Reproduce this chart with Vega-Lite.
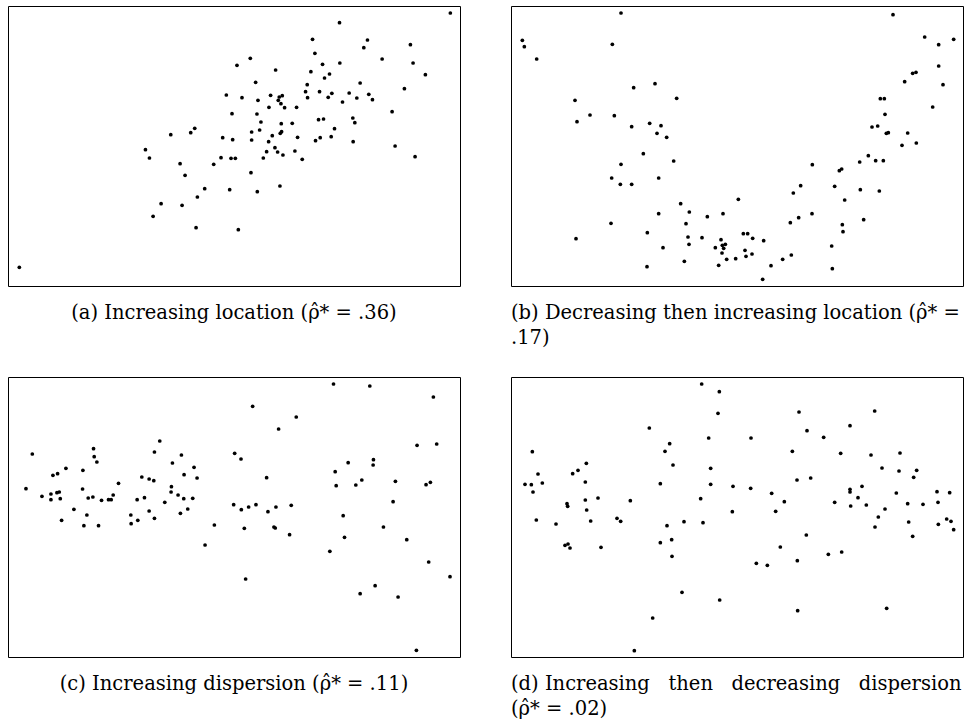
{
  "$schema": "https://vega.github.io/schema/vega-lite/v6.json",
  "padding": {"left": 7, "top": 5, "right": 5, "bottom": 5},
  "background": "white",
  "config": {
    "view": {"stroke": "black", "strokeWidth": 1},
    "title": {"font": "DejaVu Serif", "fontSize": 19.5, "fontWeight": "normal", "color": "black", "lineHeight": 25, "frame": "group"}
  },
  "datasets": {
    "a": [
      {"x":688,"y":662},{"x":656,"y":573},{"x":673,"y":517},{"x":561,"y":473},{"x":549,"y":460},{"x":489,"y":454},{"x":645,"y":445},{"x":675,"y":439},{"x":413,"y":409},{"x":425,"y":384},{"x":640,"y":385},{"x":670,"y":383},{"x":683,"y":383},{"x":517,"y":367},{"x":618,"y":365},{"x":532,"y":332},{"x":591,"y":292},{"x":666,"y":289},{"x":569,"y":267},{"x":460,"y":247},{"x":523,"y":242},{"x":436,"y":209},{"x":565,"y":175},{"x":692,"y":169},{"x":34,"y":56},
      {"x":1329,"y":819},{"x":996,"y":790},{"x":915,"y":740},{"x":1080,"y":738},{"x":1069,"y":715},{"x":1209,"y":724},{"x":922,"y":698},{"x":728,"y":683},{"x":1124,"y":681},{"x":945,"y":665},{"x":997,"y":669},{"x":1217,"y":669},{"x":804,"y":648},{"x":910,"y":643},{"x":966,"y":636},{"x":951,"y":624},{"x":1254,"y":634},{"x":744,"y":611},{"x":899,"y":604},{"x":1058,"y":609},{"x":1191,"y":592},{"x":894,"y":583},{"x":936,"y":583},{"x":973,"y":578},{"x":1025,"y":579},{"x":1084,"y":575},{"x":703,"y":565},{"x":789,"y":572},{"x":815,"y":567},{"x":824,"y":571},{"x":812,"y":557},{"x":900,"y":565},{"x":962,"y":566},{"x":1048,"y":564},{"x":1095,"y":559},{"x":751,"y":557},{"x":820,"y":547},{"x":1005,"y":552},{"x":784,"y":536},{"x":831,"y":535},{"x":867,"y":536},{"x":1154,"y":523},{"x":748,"y":516},{"x":760,"y":492},{"x":821,"y":487},{"x":854,"y":488},{"x":933,"y":499},{"x":948,"y":501},{"x":1036,"y":504},{"x":1042,"y":490},{"x":981,"y":472},{"x":756,"y":468},{"x":732,"y":462},{"x":818,"y":458},{"x":822,"y":463},{"x":794,"y":451},{"x":870,"y":446},{"x":938,"y":445},{"x":971,"y":448},{"x":732,"y":438},{"x":783,"y":433},{"x":924,"y":436},{"x":1037,"y":433},{"x":802,"y":415},{"x":777,"y":403},{"x":810,"y":402},{"x":862,"y":405},{"x":826,"y":393},{"x":1163,"y":420},{"x":767,"y":384},{"x":884,"y":380},{"x":1223,"y":388},{"x":730,"y":340},{"x":817,"y":300},{"x":749,"y":283}
    ],
    "b": [
      {"x":330,"y":819},{"x":34,"y":737},{"x":40,"y":718},{"x":304,"y":725},{"x":77,"y":681},{"x":432,"y":607},{"x":368,"y":595},{"x":497,"y":563},{"x":192,"y":557},{"x":237,"y":513},{"x":310,"y":511},{"x":198,"y":493},{"x":362,"y":478},{"x":416,"y":488},{"x":450,"y":481},{"x":438,"y":458},{"x":467,"y":446},{"x":397,"y":397},{"x":488,"y":375},{"x":330,"y":365},{"x":302,"y":324},{"x":443,"y":324},{"x":328,"y":305},{"x":362,"y":305},{"x":682,"y":260},{"x":509,"y":247},{"x":535,"y":222},{"x":443,"y":217},{"x":589,"y":208},{"x":636,"y":217},{"x":300,"y":188},{"x":525,"y":187},{"x":409,"y":160},{"x":195,"y":142},{"x":531,"y":147},{"x":573,"y":145},{"x":630,"y":139},{"x":534,"y":125},{"x":634,"y":122},{"x":643,"y":125},{"x":456,"y":115},{"x":613,"y":115},{"x":638,"y":113},{"x":633,"y":99},{"x":647,"y":80},{"x":674,"y":82},{"x":520,"y":74},{"x":623,"y":62},{"x":408,"y":58},
      {"x":1146,"y":814},{"x":1241,"y":747},{"x":1283,"y":724},{"x":1328,"y":740},{"x":1283,"y":660},{"x":1205,"y":638},{"x":1215,"y":641},{"x":1181,"y":613},{"x":1296,"y":604},{"x":1108,"y":562},{"x":1120,"y":562},{"x":1265,"y":537},{"x":1122,"y":515},{"x":1083,"y":477},{"x":1100,"y":480},{"x":1126,"y":458},{"x":1132,"y":460},{"x":1190,"y":459},{"x":1173,"y":422},{"x":1216,"y":429},{"x":1072,"y":391},{"x":1046,"y":372},{"x":1094,"y":376},{"x":1117,"y":376},{"x":904,"y":364},{"x":985,"y":346},{"x":992,"y":351},{"x":869,"y":301},{"x":971,"y":299},{"x":847,"y":279},{"x":1048,"y":289},{"x":1105,"y":285},{"x":1001,"y":258},{"x":903,"y":217},{"x":863,"y":205},{"x":838,"y":190},{"x":1058,"y":199},{"x":994,"y":184},{"x":697,"y":157},{"x":710,"y":157},{"x":725,"y":143},{"x":758,"y":136},{"x":996,"y":163},{"x":702,"y":107},{"x":705,"y":89},{"x":723,"y":96},{"x":962,"y":120},{"x":841,"y":93},{"x":815,"y":80},{"x":780,"y":61},{"x":755,"y":20},{"x":964,"y":52}
    ],
    "c": [
      {"x":456,"y":648},{"x":257,"y":625},{"x":440,"y":615},{"x":73,"y":609},{"x":521,"y":606},{"x":259,"y":601},{"x":267,"y":585},{"x":494,"y":582},{"x":559,"y":569},{"x":174,"y":566},{"x":225,"y":560},{"x":135,"y":545},{"x":149,"y":550},{"x":529,"y":547},{"x":402,"y":540},{"x":424,"y":534},{"x":438,"y":529},{"x":568,"y":537},{"x":332,"y":521},{"x":54,"y":505},{"x":224,"y":504},{"x":491,"y":511},{"x":102,"y":482},{"x":129,"y":489},{"x":147,"y":493},{"x":154,"y":495},{"x":490,"y":495},{"x":316,"y":486},{"x":511,"y":486},{"x":129,"y":472},{"x":157,"y":475},{"x":241,"y":477},{"x":255,"y":480},{"x":281,"y":470},{"x":302,"y":472},{"x":310,"y":472},{"x":388,"y":472},{"x":410,"y":478},{"x":528,"y":475},{"x":555,"y":476},{"x":471,"y":464},{"x":198,"y":443},{"x":540,"y":444},{"x":424,"y":438},{"x":237,"y":426},{"x":369,"y":426},{"x":518,"y":431},{"x":161,"y":410},{"x":390,"y":410},{"x":440,"y":416},{"x":370,"y":400},{"x":228,"y":394},{"x":272,"y":394},{"x":620,"y":396},{"x":592,"y":336},
      {"x":978,"y":819},{"x":1087,"y":813},{"x":1278,"y":780},{"x":735,"y":752},{"x":866,"y":720},{"x":813,"y":684},{"x":1229,"y":635},{"x":1288,"y":639},{"x":681,"y":611},{"x":700,"y":594},{"x":1022,"y":583},{"x":1098,"y":592},{"x":1097,"y":576},{"x":983,"y":556},{"x":777,"y":538},{"x":1063,"y":531},{"x":1164,"y":527},{"x":1045,"y":516},{"x":986,"y":514},{"x":1256,"y":517},{"x":1269,"y":524},{"x":1157,"y":466},{"x":678,"y":457},{"x":701,"y":442},{"x":723,"y":450},{"x":745,"y":457},{"x":781,"y":436},{"x":805,"y":450},{"x":851,"y":455},{"x":1007,"y":424},{"x":710,"y":386},{"x":799,"y":390},{"x":803,"y":387},{"x":1128,"y":390},{"x":846,"y":367},{"x":1011,"y":359},{"x":1198,"y":352},{"x":967,"y":317},{"x":1264,"y":285},{"x":1328,"y":241},{"x":714,"y":234},{"x":1103,"y":214},{"x":1058,"y":190},{"x":1172,"y":180},{"x":1227,"y":20}
    ],
    "d": [
      {"x":572,"y":819},{"x":625,"y":796},{"x":621,"y":731},{"x":415,"y":687},{"x":593,"y":657},{"x":476,"y":640},{"x":462,"y":617},{"x":64,"y":616},{"x":226,"y":581},{"x":486,"y":576},{"x":201,"y":560},{"x":185,"y":550},{"x":599,"y":566},{"x":81,"y":549},{"x":42,"y":518},{"x":61,"y":517},{"x":94,"y":522},{"x":223,"y":525},{"x":448,"y":520},{"x":599,"y":518},{"x":666,"y":512},{"x":66,"y":495},{"x":261,"y":477},{"x":223,"y":471},{"x":358,"y":469},{"x":569,"y":475},{"x":168,"y":460},{"x":170,"y":452},{"x":227,"y":441},{"x":664,"y":436},{"x":76,"y":411},{"x":318,"y":416},{"x":329,"y":407},{"x":239,"y":408},{"x":135,"y":399},{"x":519,"y":406},{"x":576,"y":403},{"x":468,"y":394},{"x":448,"y":343},{"x":482,"y":352},{"x":162,"y":335},{"x":171,"y":339},{"x":177,"y":327},{"x":270,"y":329},{"x":483,"y":302},{"x":513,"y":194},{"x":626,"y":171},{"x":425,"y":117},{"x":370,"y":19},
      {"x":864,"y":735},{"x":1091,"y":738},{"x":1017,"y":694},{"x":888,"y":679},{"x":720,"y":657},{"x":938,"y":659},{"x":844,"y":617},{"x":989,"y":611},{"x":1080,"y":606},{"x":1167,"y":612},{"x":1113,"y":567},{"x":1164,"y":558},{"x":1217,"y":560},{"x":1208,"y":539},{"x":858,"y":531},{"x":899,"y":537},{"x":719,"y":506},{"x":1017,"y":503},{"x":1017,"y":495},{"x":1053,"y":512},{"x":782,"y":491},{"x":1156,"y":492},{"x":1278,"y":496},{"x":1316,"y":493},{"x":1041,"y":478},{"x":820,"y":466},{"x":971,"y":464},{"x":1190,"y":460},{"x":1236,"y":458},{"x":1281,"y":464},{"x":1019,"y":453},{"x":1066,"y":456},{"x":1122,"y":444},{"x":794,"y":437},{"x":1102,"y":420},{"x":1307,"y":414},{"x":1320,"y":407},{"x":1193,"y":405},{"x":1282,"y":398},{"x":1092,"y":390},{"x":1328,"y":382},{"x":886,"y":366},{"x":1205,"y":362},{"x":808,"y":330},{"x":952,"y":308},{"x":992,"y":315},{"x":736,"y":281},{"x":769,"y":275},{"x":859,"y":289},{"x":1127,"y":146},{"x":860,"y":139}
    ]
  },
  "columns": 2,
  "bounds": "flush",
  "spacing": {"row": 91, "column": 51},
  "concat": [
    {
      "width": 452, "height": 280,
      "data": {"name": "a"},
      "title": {"text": "(a) Increasing location (ρ̂* = .36)", "orient": "bottom", "anchor": "middle", "offset": 18},
      "mark": {"type": "circle", "size": 14, "color": "black", "opacity": 1},
      "encoding": {
        "x": {"field": "x", "type": "quantitative", "scale": {"domain": [0, 1358], "nice": false, "zero": false}, "axis": null},
        "y": {"field": "y", "type": "quantitative", "scale": {"domain": [0, 840], "nice": false, "zero": false}, "axis": null}
      }
    },
    {
      "width": 452, "height": 280,
      "data": {"name": "b"},
      "title": {"text": ["(b) Decreasing then increasing location (ρ̂* =", ".17)"], "orient": "bottom", "anchor": "start", "offset": 18},
      "mark": {"type": "circle", "size": 14, "color": "black", "opacity": 1},
      "encoding": {
        "x": {"field": "x", "type": "quantitative", "scale": {"domain": [0, 1356], "nice": false, "zero": false}, "axis": null},
        "y": {"field": "y", "type": "quantitative", "scale": {"domain": [0, 840], "nice": false, "zero": false}, "axis": null}
      }
    },
    {
      "width": 452, "height": 280,
      "data": {"name": "c"},
      "title": {"text": "(c) Increasing dispersion (ρ̂* = .11)", "orient": "bottom", "anchor": "middle", "offset": 18},
      "mark": {"type": "circle", "size": 14, "color": "black", "opacity": 1},
      "encoding": {
        "x": {"field": "x", "type": "quantitative", "scale": {"domain": [0, 1358], "nice": false, "zero": false}, "axis": null},
        "y": {"field": "y", "type": "quantitative", "scale": {"domain": [0, 840], "nice": false, "zero": false}, "axis": null}
      }
    },
    {
      "width": 452, "height": 280,
      "data": {"name": "d"},
      "title": {"text": ["(d) Increasing \u00a0\u00a0then \u00a0\u00a0decreasing \u00a0\u00a0dispersion", "(ρ̂* = .02)"], "orient": "bottom", "anchor": "start", "offset": 18},
      "mark": {"type": "circle", "size": 14, "color": "black", "opacity": 1},
      "encoding": {
        "x": {"field": "x", "type": "quantitative", "scale": {"domain": [0, 1356], "nice": false, "zero": false}, "axis": null},
        "y": {"field": "y", "type": "quantitative", "scale": {"domain": [0, 840], "nice": false, "zero": false}, "axis": null}
      }
    }
  ]
}
